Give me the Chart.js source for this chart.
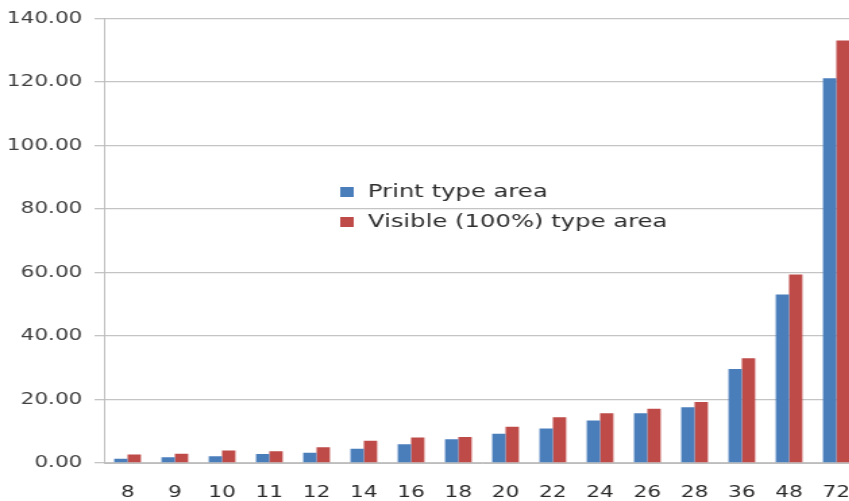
<!DOCTYPE html>
<html>
<head>
<meta charset="utf-8">
<script src="https://cdn.jsdelivr.net/npm/chart.js@4"></script>
<style>
  html, body { margin: 0; padding: 0; background: #fff; overflow: hidden; width: 849px; height: 501px; }
  #wrap { position: absolute; left: 0; top: 0; width: 637px; height: 501px; transform: scaleX(1.35); transform-origin: 0 0; }
</style>
</head>
<body>
<div id="wrap"><canvas id="c" width="637" height="501"></canvas></div>
<script>
// Point sizes on the x axis
const categories = ['8', '9', '10', '11', '12', '14', '16', '18', '20', '22', '24', '26', '28', '36', '48', '72'];
// Print type area per point size
const printArea = [1.3, 1.8, 2.1, 2.8, 3.2, 4.5, 5.9, 7.5, 9.2, 10.9, 13.4, 15.7, 17.6, 29.6, 53.1, 121.2];
// Visible (100%) type area per point size
const visibleArea = [2.7, 2.9, 3.9, 3.7, 5.0, 7.0, 8.0, 8.2, 11.4, 14.4, 15.7, 17.1, 19.2, 33.0, 59.4, 133.1];
const seriesNames = ['Print type area', 'Visible (100%) type area'];
const yMin = 0, yMax = 140, yStep = 20;

const FONT = '"DejaVu Sans", Verdana, sans-serif';

// Legend drawn inside the plot area
const innerLegend = {
  id: 'innerLegend',
  afterDatasetsDraw(chart) {
    const ctx = chart.ctx;
    const rows = [192, 222];
    ctx.save();
    ctx.font = '18px ' + FONT;
    ctx.textBaseline = 'middle';
    chart.data.datasets.forEach((ds, i) => {
      const y = rows[i];
      ctx.fillStyle = ds.backgroundColor;
      ctx.fillRect(252, y - 5, 10, 10);
      ctx.fillStyle = '#2e2e2e';
      ctx.fillText(ds.label, 272.5, y);
    });
    ctx.restore();
  }
};

new Chart(document.getElementById('c'), {
  type: 'bar',
  data: {
    labels: categories,
    datasets: [
      { label: seriesNames[0], data: printArea, backgroundColor: '#4a7ebb' },
      { label: seriesNames[1], data: visibleArea, backgroundColor: '#be4b48' }
    ]
  },
  options: {
    responsive: false,
    animation: false,
    layout: { padding: { top: 17, left: 0, right: 0, bottom: 0 } },
    datasets: { bar: { categoryPercentage: 0.565, barPercentage: 1.0 } },
    plugins: { legend: { display: false }, tooltip: { enabled: false } },
    scales: {
      x: {
        grid: { display: false },
        border: { display: true, color: '#bdbdbd', width: 1 },
        ticks: { color: '#2a2a2a', font: { family: FONT, size: 16 }, padding: 12, maxRotation: 0, autoSkip: false },
        afterFit(s) { s.height = 38; s.paddingLeft = 0; s.paddingRight = 0; }
      },
      y: {
        min: yMin,
        max: yMax,
        grid: { color: '#c4c4c4', lineWidth: 1.3, tickLength: 7, drawTicks: true },
        border: { display: true, color: '#bdbdbd', width: 1 },
        ticks: {
          stepSize: yStep,
          color: '#404040',
          padding: 9,
          font: { family: FONT, size: 16 },
          callback: v => Number(v).toFixed(2)
        },
        afterFit(s) { s.width = 77; }
      }
    }
  },
  plugins: [innerLegend]
});
</script>
</body>
</html>
